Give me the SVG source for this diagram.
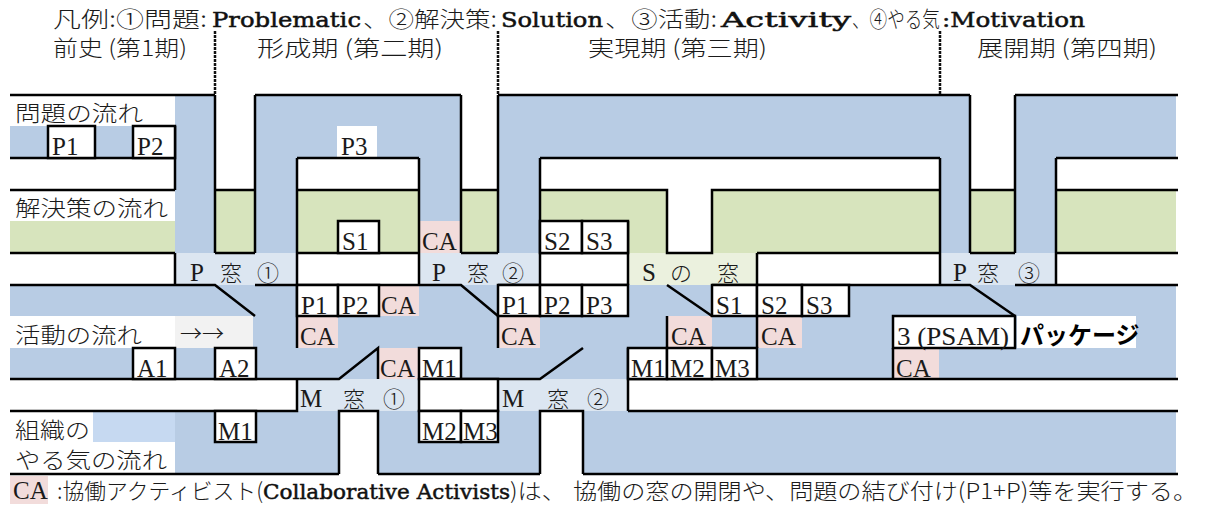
<svg xmlns="http://www.w3.org/2000/svg" width="1207" height="507" viewBox="0 0 1207 507">
<style>
.b{fill:#b8cce4}
.g{fill:#d7e4bd}
.pk{fill:#f2dcdb}
.w{fill:#dce6f1}
.ws{fill:#ebf1de}
.bx{fill:#fff;stroke:#000;stroke-width:2.5}
.ln{fill:none;stroke:#000;stroke-width:2.5}
.dv{fill:none;stroke:#111;stroke-width:2.5;stroke-dasharray:3 1}
.t{font-family:"Liberation Serif","Noto Sans CJK JP",serif;font-size:25px;fill:#1a1a1a}
.j{font-family:"Noto Sans CJK JP",sans-serif;font-size:22px;fill:#1a1a1a;font-weight:300}
.e{font-family:"DejaVu Serif",serif;font-size:21px;fill:#111;stroke:#111;stroke-width:0.5}
.k{font-family:"Noto Sans CJK JP",sans-serif;font-size:24px;font-weight:bold;fill:#000}
</style>
<rect width="1207" height="507" fill="#fff"/>
<g id="fills">
<rect class="b" x="10" y="126" width="165" height="32"/>
<rect class="b" x="175" y="95" width="40" height="158"/>
<rect class="b" x="255" y="95" width="206" height="63"/>
<rect class="b" x="255" y="158" width="42" height="95"/>
<rect class="b" x="419" y="158" width="42" height="63"/>
<rect class="b" x="498" y="95" width="472" height="63"/>
<rect class="b" x="498" y="158" width="42" height="95"/>
<rect class="b" x="940" y="158" width="30" height="95"/>
<rect class="b" x="1015" y="95" width="161" height="63"/>
<rect class="b" x="1015" y="158" width="41" height="95"/>
<rect class="g" x="10" y="221" width="165" height="32"/>
<rect class="g" x="215" y="190" width="40" height="63"/>
<rect class="g" x="297" y="190" width="122" height="63"/>
<rect class="g" x="461" y="190" width="37" height="63"/>
<rect class="g" x="540" y="190" width="127" height="63"/>
<rect class="g" x="712" y="190" width="228" height="63"/>
<rect class="g" x="970" y="190" width="45" height="63"/>
<rect class="g" x="1056" y="190" width="120" height="63"/>
<rect class="w" x="175" y="253" width="122" height="32"/>
<rect class="w" x="419" y="253" width="121" height="32"/>
<rect class="ws" x="628" y="253" width="129" height="32"/>
<rect class="w" x="940" y="253" width="116" height="32"/>
<rect class="b" x="10" y="285" width="1166" height="94"/>
<rect fill="#fff" x="10" y="316" width="165" height="32"/>
<rect fill="#f2f2f2" x="175" y="316" width="78" height="32"/>
<rect class="w" x="297" y="379" width="122" height="32"/>
<rect class="w" x="498" y="379" width="130" height="32"/>
<rect class="b" x="175" y="411" width="164" height="63"/>
<rect class="b" x="378" y="411" width="162" height="63"/>
<rect class="b" x="583" y="411" width="593" height="63"/>
<rect fill="#c6d9f1" x="93" y="411" width="82" height="31"/>
<rect class="pk" x="419" y="221" width="42" height="32"/>
<rect class="pk" x="379" y="285" width="40" height="31"/>
<rect class="pk" x="297" y="316" width="41" height="32"/>
<rect class="pk" x="498" y="316" width="42" height="32"/>
<rect class="pk" x="667" y="316" width="45" height="32"/>
<rect class="pk" x="757" y="316" width="45" height="32"/>
<rect class="pk" x="378" y="348" width="41" height="31"/>
<rect class="pk" x="893" y="348" width="46" height="31"/>
<rect class="pk" x="10" y="476" width="38" height="28"/>
<rect fill="#fff" x="337" y="126" width="40" height="31"/>
<rect fill="#fff" x="1017" y="316" width="119" height="32"/>
</g>
<g id="connectors">
<path class="ln" d="M10 95H215M215 95V253M255 95V253M255 95H461M461 95V253M498 95H970M498 95V253M970 95V253M1015 95H1178M1015 95V253
M10 158H175M175 126V190M297 158H419M297 158V348M419 158V285M540 158H940M540 158V285M940 158V285M1056 158H1178M1056 158V285
M10 190H175M10 253H175M215 190H255M215 253H255M297 190H419M297 253H419M461 190H498M461 253H498
M540 190H667V253H712V190H940M540 253H628M757 253H940M628 221V285M757 253V285
M970 190H1015M970 253H1015M1056 190H1178M1056 253H1178M175 253V285
M10 285H215L255 316M255 285H419M419 285H461L498 316M498 285H628M667 285L712 316M712 285H970L1015 316M1015 285H1178
M498 316V348M667 316V348M757 316V348M893 348V379
M10 379H339L378 348V379M419 379H540L583 348M628 348V411M628 379H1178M628 411H1178
M10 411H297V379M339 474V411H378V474M540 474V411H583V474
M10 474H339M378 474H540M583 474H1178"/>
<path class="dv" d="M215 31V95M498 31V95M940 31V95"/>
</g>
<g id="boxes">
<rect class="bx" x="48" y="126" width="47" height="32"/>
<rect class="bx" x="133" y="126" width="42" height="32"/>
<rect class="bx" x="338" y="221" width="41" height="32"/>
<rect class="bx" x="540" y="221" width="42" height="32"/>
<rect class="bx" x="582" y="221" width="46" height="32"/>
<rect class="bx" x="297" y="285" width="41" height="31"/>
<rect class="bx" x="338" y="285" width="41" height="31"/>
<rect class="bx" x="498" y="285" width="42" height="31"/>
<rect class="bx" x="540" y="285" width="42" height="31"/>
<rect class="bx" x="582" y="285" width="46" height="31"/>
<rect class="bx" x="712" y="285" width="45" height="31"/>
<rect class="bx" x="757" y="285" width="45" height="31"/>
<rect class="bx" x="802" y="285" width="47" height="31"/>
<rect class="bx" x="893" y="316" width="122" height="32"/>
<rect class="bx" x="133" y="348" width="42" height="31"/>
<rect class="bx" x="215" y="348" width="41" height="31"/>
<rect class="bx" x="419" y="348" width="42" height="31"/>
<rect class="bx" x="628" y="348" width="39" height="31"/>
<rect class="bx" x="667" y="348" width="45" height="31"/>
<rect class="bx" x="712" y="348" width="45" height="31"/>
<rect class="bx" x="419" y="379" width="79" height="32"/>
<rect class="bx" x="215" y="411" width="41" height="31"/>
<rect class="bx" x="419" y="411" width="42" height="31"/>
<rect class="bx" x="461" y="411" width="37" height="31"/>
</g>
<g id="legend">
<text class="j" x="53" y="27" textLength="154" lengthAdjust="spacingAndGlyphs">凡例:①問題:</text>
<text class="e" x="212" y="27" textLength="149" lengthAdjust="spacingAndGlyphs">Problematic</text>
<text class="j" x="363" y="27" textLength="134" lengthAdjust="spacingAndGlyphs">、②解決策:</text>
<text class="e" x="501" y="27" textLength="102" lengthAdjust="spacingAndGlyphs">Solution</text>
<text class="j" x="605" y="27" textLength="112" lengthAdjust="spacingAndGlyphs">、③活動:</text>
<text class="e" x="721" y="27" textLength="130" lengthAdjust="spacingAndGlyphs">Activity</text>
<text class="j" transform="translate(852 27) scale(0.8 1)" x="0" y="0">、④やる気</text>
<text class="e" x="942" y="27" textLength="143" lengthAdjust="spacingAndGlyphs">:Motivation</text>
</g>
<g id="periods">
<text class="j" x="53" y="56" textLength="134" lengthAdjust="spacingAndGlyphs">前史 (第1期)</text>
<text class="j" x="257" y="56" textLength="186" lengthAdjust="spacingAndGlyphs">形成期 (第二期)</text>
<text class="j" x="588" y="56" textLength="179" lengthAdjust="spacingAndGlyphs">実現期 (第三期)</text>
<text class="j" x="977" y="56" textLength="180" lengthAdjust="spacingAndGlyphs">展開期 (第四期)</text>
</g>
<g id="band-labels">
<text class="j" x="15" y="121" font-size="23" textLength="128" lengthAdjust="spacingAndGlyphs">問題の流れ</text>
<text class="j" x="15" y="216" font-size="23" textLength="153" lengthAdjust="spacingAndGlyphs">解決策の流れ</text>
<text class="j" x="15" y="343" font-size="23" textLength="127" lengthAdjust="spacingAndGlyphs">活動の流れ</text>
<text class="j" x="180" y="341" font-size="24">→→</text>
<text class="j" x="15" y="438" font-size="23" textLength="75" lengthAdjust="spacingAndGlyphs">組織の</text>
<text class="j" x="15" y="468" font-size="23" textLength="152" lengthAdjust="spacingAndGlyphs">やる気の流れ</text>
</g>
<g id="windows">
<text class="t" x="190" y="281">P</text><text class="j" x="220" y="281" font-size="23">窓</text><text class="j" x="257" y="281" font-size="25">①</text>
<text class="t" x="432" y="281">P</text><text class="j" x="467" y="281" font-size="23">窓</text><text class="j" x="502" y="281" font-size="25">②</text>
<text class="t" x="642" y="281">S</text><text class="j" x="670" y="281" font-size="23">の</text><text class="j" x="717" y="281" font-size="23">窓</text>
<text class="t" x="953" y="281">P</text><text class="j" x="977" y="281" font-size="23">窓</text><text class="j" x="1018" y="281" font-size="25">③</text>
<text class="t" x="300" y="407">M</text><text class="j" x="343" y="407" font-size="23">窓</text><text class="j" x="383" y="407" font-size="25">①</text>
<text class="t" x="502" y="407">M</text><text class="j" x="547" y="407" font-size="23">窓</text><text class="j" x="587" y="407" font-size="25">②</text>
</g>
<g id="node-labels" class="t">
<text x="52" y="155">P1</text><text x="137" y="155">P2</text><text x="341" y="155">P3</text>
<text x="342" y="250">S1</text><text x="422" y="250">CA</text><text x="544" y="250">S2</text><text x="586" y="250">S3</text>
<text x="301" y="314">P1</text><text x="342" y="314">P2</text><text x="381" y="314">CA</text>
<text x="502" y="314">P1</text><text x="544" y="314">P2</text><text x="586" y="314">P3</text>
<text x="716" y="314">S1</text><text x="761" y="314">S2</text><text x="806" y="314">S3</text>
<text x="300" y="345">CA</text><text x="501" y="345">CA</text><text x="671" y="345">CA</text><text x="761" y="345">CA</text>
<text x="897" y="345" textLength="112" lengthAdjust="spacingAndGlyphs">3 (PSAM)</text>
<text class="k" x="1020" y="344">パッケージ</text>
<text x="137" y="377">A1</text><text x="219" y="377">A2</text><text x="380" y="377">CA</text><text x="422" y="377">M1</text>
<text x="631" y="377">M1</text><text x="670" y="377">M2</text><text x="715" y="377">M3</text><text x="896" y="377">CA</text>
<text x="218" y="440">M1</text><text x="422" y="440">M2</text><text x="463" y="440">M3</text>
</g>
<g id="footer">
<text class="t" x="13" y="499">CA</text>
<text class="j" x="57" y="499" font-size="21" textLength="206" lengthAdjust="spacingAndGlyphs">:協働アクティビスト(</text>
<text class="e" x="263" y="499" font-size="20" textLength="247" lengthAdjust="spacingAndGlyphs">Collaborative Activists</text>
<text class="j" x="510" y="499" font-size="21" textLength="56" lengthAdjust="spacingAndGlyphs">)は、</text>
<text class="j" x="573" y="499" font-size="21" textLength="624" lengthAdjust="spacingAndGlyphs">協働の窓の開閉や、問題の結び付け(P1+P)等を実行する。</text>
</g>
</svg>
